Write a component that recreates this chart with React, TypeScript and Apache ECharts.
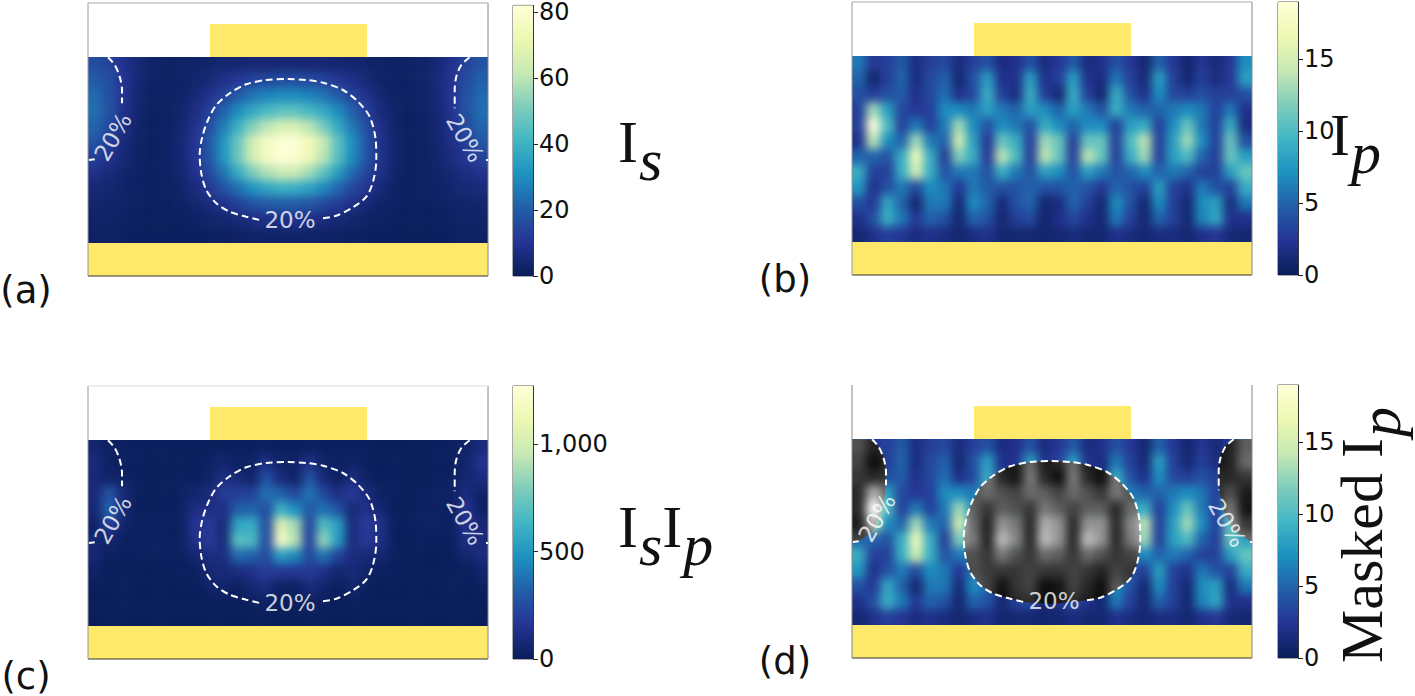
import React, { useEffect, useRef } from "react";
import * as echarts from "echarts";

// ---------- data ----------
const isValues: number[][] = [
  [16,14,9,5,3,2,2.5,3,3,4,4.5,5,5,5,5,5,4.5,4,3.5,3,2.5,2,2,3,5,9,14,18],
  [20,16,10,5,2.5,2,2.5,3.5,5,8,11,14,15,16,16,15,14,11,8,5,3,2,2,3,6,10,16,21],
  [23,17,10,4.5,2,2,3,5,9,14,20,25,28,30,30,28,25,20,14,9,4.5,2.5,2,2.5,5.5,10,17,23],
  [24,17,9,4,1.5,2,3.5,7,13,21,30,37,42,46,46,42,37,30,21,13,6,3,1.5,2.5,5,10,17,24],
  [22,15,7.5,3,1.5,2,4,9,16,27,40,52,60,66,66,60,50,38,26,16,8,3,1.5,2,4.5,9,16,22],
  [18,12,6,2.5,1.5,2,4.5,10,19,32,48,64,76,81,81,74,62,46,31,18,9,3.5,1.5,2,4,8,13,19],
  [13,9,5,2.5,1.5,2,4.5,10,18,32,48,64,76,81,80,73,60,45,30,18,9,3.5,1.5,2,3.5,6.5,10,14],
  [8,6,3.5,2,1.5,2,4,9,15,25,38,50,58,62,62,56,46,34,23,14,8,3,1.5,2,3,5,7,9],
  [5,4,3,2,1.5,2,3,6,11,17,24,31,36,39,38,35,29,22,15,10,5,2.5,1.5,2,2.5,3.5,5,6],
  [3.5,3,2.5,2,1.5,1.5,2.5,4,6,9,13,17,19,20,20,18,15,12,8,5,3,2,1.5,1.5,2,2.5,3,4],
  [2.5,2.5,2,1.5,1.2,1.2,1.5,2,3,4,5.5,7,8,8.5,8.5,7.5,6,5,3.5,2.5,2,1.5,1.2,1.2,1.5,2,2.5,2.5],
  [2,2,1.5,1.2,1,1,1,1.2,1.5,1.5,2,2.5,2.5,3,3,2.5,2,2,1.5,1.5,1,1,1,1,1.2,1.5,2,2],
];

const ipValues: number[][] = [
  [6,2.5,3,4.5,1.5,3,3.5,1.5,3,4,1.5,2,4,1.5,2.5,4.5,1.5,2,4,2.5,1,5,2.5,0.8,2.5,1.2,2.5,7],
  [5,0.8,3,5,1.5,3.5,5,1,4,8,2,2,8,2,3,8,2,1.5,6,3,1.2,8,3,1,3,1.5,2.5,8],
  [4,3,4,4.5,2,3.5,5.5,2,3.5,9,3,1.5,9,3,1,9,3,1,9,4,2,7,3.5,3,4,3,3,4],
  [3,13,8,3.5,2.5,3,7,7,6,8,6,5,8,7,5,8,6,4,9,6,5,5,6,7,6,3,6,2],
  [3,19,10,3,6,3,6,13,7,4,7,6,4,9,7,5,7,7,3,8,9,3,7,11,6,3,9,1.5],
  [2,14,7,5,13,6,5,15,8,2.5,11,9,3,13,11,3,11,11,3,10,14,3,8,13,7,3,11,4],
  [5,5,4,9,17,9,3,12,9,2.5,14,10,3,14,11,3,14,11,3,9,13,3,8,10,5,3,11,8],
  [9,3,3,9,15,9,4,6,6,4,9,6,4,8,7,4,8,6,4,5,7,5,6,5,3,3,8,11],
  [7.5,2,4,6,3.5,7,6,2.5,6,4.5,4,4,5,4,4,5,4,2.5,5,4,3,8,3,2,6,4,3,9],
  [4,2.5,8.5,5,1,6,6,1.2,7,5,1.2,4,5,1,1.5,5,3,1,7,4,1,7,3,1,7,8,1.5,6],
  [2,4,9,6,2.5,5,4,1,5,4,1,3,3.5,0.8,2,3.5,2,1,6,3,1,5,3,1,6.5,8.5,2,2],
  [1,2,3,2.5,1.5,2,1.5,1,1.5,2,1,1,1,0.8,1,1.5,1,1,2,1.5,1,1.5,1.5,1,2,2.5,1.2,1],
];

const isIpValues: number[][] = [
  [60,30,20,20,15,15,15,15,15,15,15,15,20,20,15,20,15,15,15,15,10,10,10,15,20,20,40,100],
  [90,20,25,20,10,15,20,10,30,60,30,40,120,40,40,130,40,30,40,20,10,20,15,10,20,20,50,150],
  [85,50,35,20,10,15,25,20,40,120,80,50,270,100,40,280,90,25,100,40,15,20,10,10,25,30,60,100],
  [90,280,80,20,10,15,30,60,90,180,200,210,370,330,230,380,240,120,180,90,35,20,10,20,35,30,100,40],
  [80,340,80,15,15,15,30,120,120,120,320,340,250,620,480,300,380,280,80,130,70,15,15,30,30,30,150,30],
  [40,200,50,20,30,20,25,150,170,90,560,600,250,1050,880,230,680,540,100,180,130,15,15,30,30,25,150,80],
  [70,50,20,25,30,20,25,130,180,90,700,660,240,1200,920,220,840,520,100,170,120,15,15,20,20,20,110,100],
  [70,20,15,20,25,20,20,60,100,110,350,320,250,520,450,240,380,210,100,80,60,20,10,10,10,15,55,100],
  [40,10,10,15,10,15,20,20,70,80,100,130,190,170,160,180,120,60,80,40,20,20,5,5,15,15,15,50],
  [15,10,20,10,5,10,15,10,40,50,20,70,100,25,30,90,50,15,55,25,5,15,5,5,15,20,5,25],
  [5,10,20,10,5,5,8,5,15,15,5,20,30,10,15,25,15,5,20,8,5,8,5,5,10,15,5,5],
  [5,5,5,5,5,5,5,5,5,5,5,5,5,5,5,5,5,5,5,5,5,5,5,5,5,5,5,5],
];

// 20% contour, in panel units (x 0..400, y 0..273 from the bottom of the frame)
const contourCentre: number[][] = [
  [235,57.7],[248.3,60.3],[265,68.7],[278.3,79.3],[285,94.3],[288.3,116],[287.7,136],[281.7,159.3],
  [270,174.3],[255,186],[235,193.3],[218.3,196],[200,197],[178.3,196],[158.3,191.7],[141.7,182.7],
  [128.3,171],[120,156],[114.3,139.3],[111.7,121],[113.3,102.7],[118.3,86],[128.3,72.7],[141.7,64.3],
  [158.3,59.3],[171.7,56],
];
const contourLeftTop: number[][] = [[20,218.7],[26.7,211],[31.7,199.3],[34,186],[34,172.7]];
const contourLeftFoot: number[][] = [[1,116],[6.7,116.7]];
const contourRightTop: number[][] = [[381.7,218.7],[373.3,211],[368.3,199.3],[366.7,186],[366.7,167.7]];
const contourRightFoot: number[][] = [[398,116],[400,116]];

// outline of the masked (grey) regions of panel (d)
const maskCentreClose: number[] = [200,54];
const maskLeft: number[][] = [[0,219],[19.3,218.3],[27.7,210],[32.7,198],[34.3,185],[33.3,165],[29,145],[21,128],[11,119],[0,115.7]];
const maskRight: number[][] = [[400,219],[379,218.3],[369,206.7],[366,188],[367.7,165],[372.7,145],[382.7,126.7],[400,115.7]];

const isTicks = [0,20,40,60,80];
const ipTicks = [0,5,10,15];
const isIpTicks = [0,500,1000];
const isMax = 82;
const ipMax = 19;
const isIpMax = 1270;

const electrodes: number[][] = [[122,219,279,252],[0,0,400,33]];

const YLGNBU = ["#081d58","#253494","#225ea8","#1d91c0","#41b6c4","#7fcdbb","#c7e9b4","#edf8b1","#ffffd9"];
const GOLD = "#ffe96b";
const FONT = "'DejaVu Sans'";
const MATH = "'Liberation Serif'";

const PANELS = [
  { left: 88, top: 3, rows: isValues, max: isMax, ticks: isTicks, barLeft: 513 },
  { left: 852, top: 2, rows: ipValues, max: ipMax, ticks: ipTicks, barLeft: 1278 },
  { left: 88, top: 386, rows: isIpValues, max: isIpMax, ticks: isIpTicks, barLeft: 513 },
  { left: 852, top: 385, rows: ipValues, max: ipMax, ticks: ipTicks, barLeft: 1278 },
];
const FW = 400, FH = 273, HEAT_OFF = 54, HEAT_H = 186;
const NC = 28, NR = 12, PAD = 2;
const CW = FW / NC, CH = HEAT_H / NR;
const BLUR = 5;

function padded(rows: number[][]) {
  const out: number[][] = [];
  for (let j = -PAD; j < NR + PAD; j++) {
    const r = rows[Math.min(NR - 1, Math.max(0, j))];
    for (let i = -PAD; i < NC + PAD; i++) {
      out.push([i + PAD, j + PAD, r[Math.min(NC - 1, Math.max(0, i))]]);
    }
  }
  return out;
}
const cats = (n: number) => Array.from({ length: n }, (_, i) => String(i));

function heatOption(panels: typeof PANELS, colors: string[], maxOverride?: number) {
  const grid: any[] = [], xAxis: any[] = [], yAxis: any[] = [], series: any[] = [], visualMap: any[] = [];
  panels.forEach((p, k) => {
    grid.push({
      left: p.left - PAD * CW,
      top: p.top + HEAT_OFF - PAD * CH,
      width: (NC + 2 * PAD) * CW,
      height: (NR + 2 * PAD) * CH,
    });
    xAxis.push({ type: "category", gridIndex: k, data: cats(NC + 2 * PAD), show: false });
    yAxis.push({ type: "category", gridIndex: k, data: cats(NR + 2 * PAD), show: false, inverse: true });
    series.push({
      type: "heatmap", xAxisIndex: k, yAxisIndex: k, data: padded(p.rows), silent: true, progressive: 0,
      itemStyle: { borderWidth: 0 },
    });
    visualMap.push({
      type: "continuous", show: false, seriesIndex: k, dimension: 2, min: 0, max: maxOverride ?? p.max,
      inRange: { color: colors },
    });
  });
  return { animation: false, grid, xAxis, yAxis, series, visualMap };
}

const rectPath = (x: number, y: number, w: number, h: number) => `M${x} ${y}H${x + w}V${y + h}H${x}Z`;

function overlayOption() {
  const grid: any[] = [], xAxis: any[] = [], yAxis: any[] = [], series: any[] = [];
  const label20 = (data: any[]) => ({
    type: "scatter", data, symbolSize: 0, silent: true, z: 6,
  });
  PANELS.forEach((p, k) => {
    grid.push({ left: p.left, top: p.top, width: FW, height: FH });
    xAxis.push({ type: "value", gridIndex: k, min: 0, max: FW, show: false });
    yAxis.push({ type: "value", gridIndex: k, min: 0, max: FH, show: false });
    series.push({
      type: "custom", xAxisIndex: k, yAxisIndex: k, silent: true, z: 3, clip: false,
      data: electrodes,
      renderItem: (_: any, api: any) => {
        const a = api.coord([api.value(0), api.value(3)]);
        const b = api.coord([api.value(2), api.value(1)]);
        return { type: "rect", shape: { x: a[0], y: a[1], width: b[0] - a[0], height: b[1] - a[1] }, style: { fill: GOLD } };
      },
    });
    const segs: [number, number, number, number, string][] = [
      [0, 0, FW, 0, "#333333"],
      [0, 0, 0, FH, k === 3 ? "#888888" : "#999999"],
      [FW, 0, FW, FH, "#888888"],
    ];
    if (k !== 3) segs.push([0, FH, FW, FH, k === 2 ? "#dddddd" : "#aaaaaa"]);
    series.push({
      type: "custom", xAxisIndex: k, yAxisIndex: k, silent: true, z: 4, clip: false,
      data: segs.map((s) => [s[0], s[1], s[2], s[3]]),
      renderItem: (params: any, api: any) => {
        const a = api.coord([api.value(0), api.value(1)]);
        const b = api.coord([api.value(2), api.value(3)]);
        return { type: "line", shape: { x1: a[0], y1: a[1], x2: b[0], y2: b[1] }, style: { stroke: segs[params.dataIndex][4], lineWidth: 1 } };
      },
    });
    if (k !== 1) {
      [contourCentre, contourLeftTop, contourLeftFoot, contourRightTop, contourRightFoot].forEach((c) => {
        series.push({
          type: "line", xAxisIndex: k, yAxisIndex: k, data: c, smooth: 0.3, symbol: "none", silent: true, z: 5,
          lineStyle: { color: "#ffffff", width: 2, type: [7, 4] },
        });
      });
      const labels: [number, number, number][] = k === 3
        ? [[202, 57, 0], [25, 140, 60], [375, 135, -60]]
        : [[202, 56, 0], [25, 139, 60], [377, 138, -60]];
      labels.forEach((l) => {
        series.push({
          ...label20([[l[0], l[1]]]), xAxisIndex: k, yAxisIndex: k,
          label: {
            show: true, position: "inside", formatter: "20%", color: "#ffffff",
            fontFamily: FONT, fontSize: 23, rotate: l[2], align: "center", verticalAlign: "middle",
          },
        });
      });
    }
  });
  PANELS.forEach((p, i) => {
    const k = PANELS.length + i;
    grid.push({ left: p.barLeft, top: p.top, width: 20, height: FH, show: true, borderColor: "#555555", borderWidth: 1, backgroundColor: "transparent" });
    xAxis.push({ type: "category", gridIndex: k, data: ["c"], show: false });
    yAxis.push({
      type: "value", gridIndex: k, min: 0, max: p.max, position: "right", splitLine: { show: false },
      axisLine: { show: true, lineStyle: { color: "#333333" } },
      axisTick: { show: true, length: 5, customValues: p.ticks, lineStyle: { color: "#222222" } },
      axisLabel: { show: true, customValues: p.ticks, color: "#111111", fontFamily: FONT, fontSize: 24, margin: 6 },
    });
    series.push({
      type: "bar", xAxisIndex: k, yAxisIndex: k, data: [p.max], barWidth: "100%", silent: true,
      itemStyle: {
        color: new echarts.graphic.LinearGradient(0, 1, 0, 0,
          YLGNBU.map((c, n) => ({ offset: n / (YLGNBU.length - 1), color: c }))),
      },
    });
  });

  const T = (x: number, y: number, text: string, extra: any = {}) => ({
    type: "text", x, y, silent: true,
    style: { text, fill: "#111111", font: `37px ${FONT}`, align: "center", verticalAlign: "middle", ...extra },
  });
  const rich = {
    m: { fontFamily: MATH, fontSize: 60, fill: "#111111", color: "#111111", padding: [0, 0, 16, 0] },
    s: { fontFamily: MATH, fontSize: 60, fontStyle: "italic", color: "#111111", padding: [20, 0, 0, 1] },
  };
  const M = (x: number, y: number, text: string, rotation = 0) => ({
    type: "text", x, y, rotation, silent: true,
    style: { text, rich, font: `60px ${MATH}`, fill: "#111111", align: "left", verticalAlign: "middle" },
  });
  const graphic = [
    T(26, 290, "(a)"), T(785, 279, "(b)"), T(26, 676, "(c)"), T(785, 661, "(d)"),
    M(618, 150, "{m|I}{s|s}"), M(1330, 143, "{m|I}{s|p}"),
    M(618, 535, "{m|I}{s|s}{m|I}{s|p}"), M(1370, 663, "{m|Masked I}{s|p}", Math.PI / 2),
  ];
  return { animation: false, grid, xAxis, yAxis, series, graphic };
}

export default function App() {
  const heatRef = useRef<HTMLDivElement>(null);
  const grayRef = useRef<HTMLDivElement>(null);
  const overRef = useRef<HTMLDivElement>(null);
  useEffect(() => {
    const heat = echarts.init(heatRef.current!, undefined, { renderer: "svg" });
    const gray = echarts.init(grayRef.current!, undefined, { renderer: "svg" });
    const over = echarts.init(overRef.current!, undefined, { renderer: "svg" });
    heat.setOption(heatOption(PANELS, YLGNBU));
    gray.setOption(heatOption([PANELS[3]], ["#000000", "#ffffff"]));
    over.setOption(overlayOption());
    const px = (pt: number[]) => over.convertToPixel({ gridIndex: 3 } as any, pt) as number[];
    const poly = (pts: number[][]) =>
      "M" + pts.map((q) => { const c = px(q); return `${c[0].toFixed(1)} ${c[1].toFixed(1)}`; }).join("L") + "Z";
    const maskPath = [poly([...contourCentre, maskCentreClose]), poly(maskLeft), poly(maskRight)].join(" ");
    grayRef.current!.parentElement!.style.clipPath = `path('${maskPath}')`;
    return () => { heat.dispose(); gray.dispose(); over.dispose(); };
  }, []);

  const clip = PANELS.map((p) => rectPath(p.left, p.top + HEAT_OFF, FW, HEAT_H)).join(" ");
  const full: React.CSSProperties = { position: "absolute", left: 0, top: 0, width: 1415, height: 696 };
  return (
    <div style={{ position: "fixed", left: 0, top: 0, width: 1415, height: 696, background: "#ffffff", overflow: "hidden" }}>
      <div style={{ ...full, clipPath: `path('${clip}')` }}>
        <div ref={heatRef} style={{ ...full, filter: `blur(${BLUR}px)` }} />
      </div>
      <div style={full}>
        <div ref={grayRef} style={{ ...full, filter: `blur(${BLUR}px)` }} />
      </div>
      <div ref={overRef} style={full} />
    </div>
  );
}
